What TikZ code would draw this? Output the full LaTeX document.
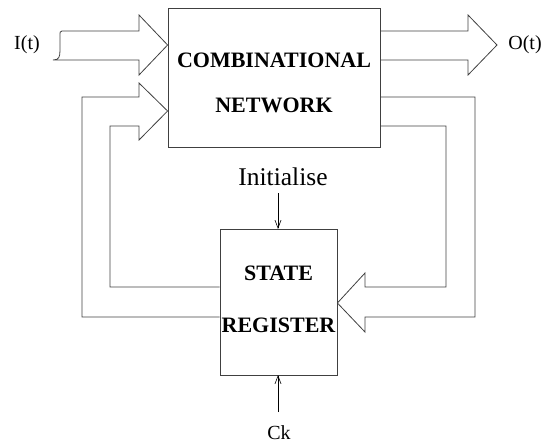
\documentclass[tikz,border=0pt]{standalone}
\usepackage{fontspec}
\setmainfont{Liberation Serif}
\usetikzlibrary{arrows.meta}
\begin{document}
\begin{tikzpicture}[x=1pt,y=-1pt,
  block/.style={draw=black!75,line width=0.8pt,inner sep=0pt},
  pipe/.style={draw=black!75,line width=0.8pt,line join=miter},
  lbl/.style={font=\fontsize{22}{22}\selectfont\bfseries,inner sep=0pt},
  sig/.style={font=\fontsize{20}{20}\selectfont,inner sep=0pt},
  ctl/.style={draw=black,line width=0.6pt,-{Straight Barb[length=8pt,width=6pt]}}]
\useasboundingbox (0,0) rectangle (543,445);

% the two blocks
\node[block,minimum width=212pt,minimum height=139pt] (comb) at (274,77.5) {};
\node[block,minimum width=117pt,minimum height=146pt] (reg) at (278.5,302) {};
\node[lbl] (c1) at (274,60) {COMBINATIONAL};
\node[lbl] (c2) at (274,105) {NETWORK};
\node[lbl] (r1) at (278.5,273) {STATE};
\node[lbl] (r2) at (278.5,325.5) {REGISTER};

% external signals
\node[sig] (in) at (27,45) {I(t)};
\node[sig] (out) at (525,45) {O(t)};
\node[font=\fontsize{25.5}{25.5}\selectfont,inner sep=0pt] (init) at (283,177) {Initialise};
\node[sig] (ck) at (279,433) {Ck};

% input bus
\draw[pipe] (62,31) -- (139,31) -- (139,15) -- (comb.west |- 0,45) -- (139,75) -- (139,60) -- (53,60)
  .. controls (59,60) and (60,57) .. (60,50) -- (60,36) .. controls (60,32) and (60,31) .. (62,31);

% output bus
\draw[pipe] (comb.east |- 0,31) -- (468,31) -- (468,15) -- (497,45) -- (468,75) -- (468,60) -- (comb.east |- 0,60);

% state fed back into the network
\draw[pipe] (reg.west |- 0,317) -- (82,317) -- (82,97) -- (139,97) -- (139,83) -- (comb.west |- 0,111)
  -- (139,140) -- (139,126) -- (110,126) -- (110,287) -- (reg.west |- 0,287);

% next state into the register
\draw[pipe] (comb.east |- 0,97) -- (475,97) -- (475,317) -- (365,317) -- (365,332) -- (reg.east |- 0,303)
  -- (365,273) -- (365,287) -- (446,287) -- (446,126) -- (comb.east |- 0,126);

% control inputs
\draw[ctl] (278,193) -- (278,229);
\draw[ctl] (278,412) -- (278,375);
\end{tikzpicture}
\end{document}
